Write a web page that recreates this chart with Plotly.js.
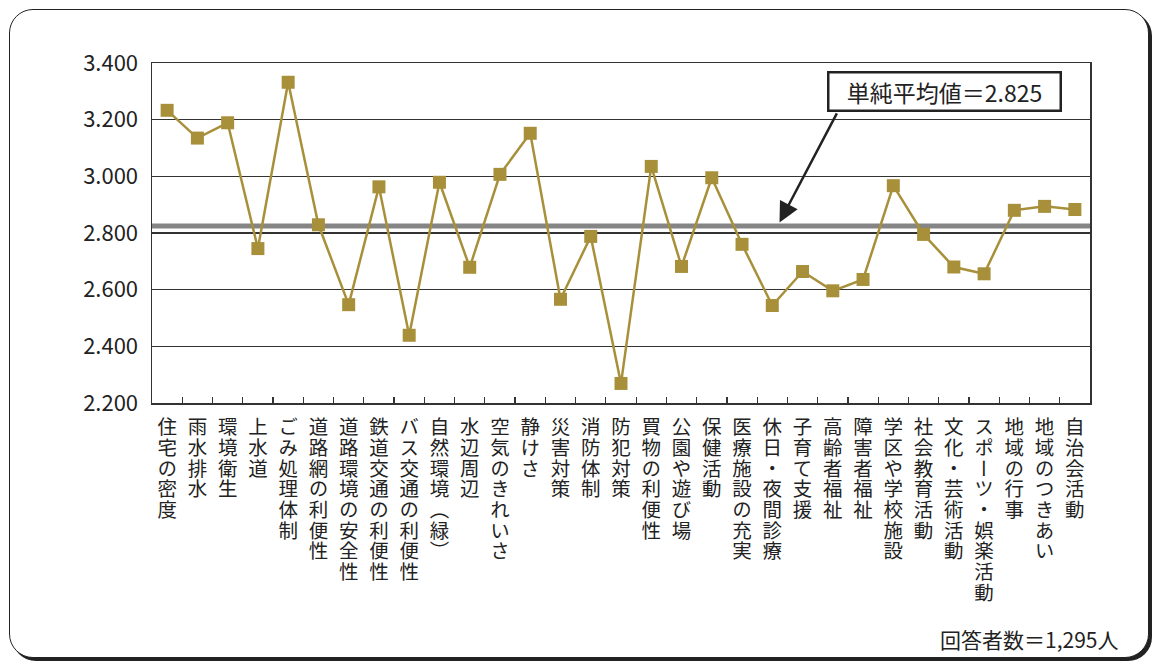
<!DOCTYPE html>
<html>
<head>
<meta charset="utf-8">
<script src="https://cdn.plot.ly/plotly-3.0.1.min.js"></script>
<style>
  html, body { margin: 0; padding: 0; background: #ffffff; }
  body { width: 1154px; height: 664px; position: relative; overflow: hidden; }
  #frame {
    position: absolute; left: 9px; top: 9px; width: 1138px; height: 647px;
    border: 1.5px solid #222; border-radius: 24px;
    box-shadow: 3px 3px 0 #222; background: #fff;
  }
  #chart { position: absolute; left: 0; top: 0; width: 1154px; height: 664px; }
</style>
</head>
<body>
<div id="frame"></div>
<div id="chart"></div>
<script>
// Satisfaction score per item
const categories = [
  '住宅の密度', '雨水排水', '環境衛生', '上水道', 'ごみ処理体制',
  '道路網の利便性', '道路環境の安全性', '鉄道交通の利便性', 'バス交通の利便性', '自然環境（緑）',
  '水辺周辺', '空気のきれいさ', '静けさ', '災害対策', '消防体制',
  '防犯対策', '買物の利便性', '公園や遊び場', '保健活動', '医療施設の充実',
  '休日・夜間診療', '子育て支援', '高齢者福祉', '障害者福祉', '学区や学校施設',
  '社会教育活動', '文化・芸術活動', 'スポーツ・娯楽活動', '地域の行事', '地域のつきあい',
  '自治会活動'
];
const scores = [
  3.233, 3.135, 3.189, 2.745, 3.332,
  2.829, 2.547, 2.963, 2.439, 2.979,
  2.679, 3.007, 3.152, 2.566, 2.788,
  2.269, 3.035, 2.682, 2.995, 2.760,
  2.544, 2.664, 2.596, 2.636, 2.967,
  2.795, 2.680, 2.656, 2.880, 2.894,
  2.883
];
const simpleMean = 2.825;
const respondents = 1295;
const yTicks = [2.2, 2.4, 2.6, 2.8, 3.0, 3.2, 3.4];

const FONT = '"Noto Sans CJK JP", "Noto Sans", sans-serif';
const gold = '#a8903a';

// Stacked fallback for the category labels (replaced by true vertical text after drawing)
const verticalForms = { '（': '︵', '）': '︶', 'ー': '︱' };
const toStacked = s => Array.from(s).map(c => verticalForms[c] || c).join('<br>');
const stackedLabels = categories.map(toStacked);

const trace = {
  type: 'scatter', mode: 'lines+markers',
  x: categories, y: scores,
  line: { color: gold, width: 2.5 },
  marker: { symbol: 'square', size: 13, color: gold },
  cliponaxis: false,
  hoverinfo: 'x+y'
};

const layout = {
  width: 1154, height: 664,
  margin: { l: 152, r: 64, t: 63, b: 261 },
  paper_bgcolor: 'rgba(0,0,0,0)', plot_bgcolor: 'rgba(0,0,0,0)',
  font: { family: FONT, color: '#222' },
  showlegend: false,
  xaxis: {
    type: 'category',
    tickmode: 'array', tickvals: categories, ticktext: stackedLabels,
    tickson: 'boundaries', ticks: 'inside', ticklen: 6, tickcolor: '#333', tickwidth: 1.2,
    tickangle: 0,
    tickfont: { size: 16, family: FONT, color: '#222' },
    showgrid: false, zeroline: false,
    showline: true, linecolor: '#333', linewidth: 1.5, mirror: true,
    range: [-0.5, categories.length - 0.5], fixedrange: true
  },
  yaxis: {
    range: [2.2, 3.4], tickmode: 'array', tickvals: yTicks,
    ticktext: yTicks.map(v => v.toFixed(3)),
    tickfont: { size: 22, family: FONT, color: '#222' },
    ticks: '', ticklabelstandoff: 8,
    showgrid: true, gridcolor: '#333', gridwidth: 1.2,
    zeroline: false, showline: true, linecolor: '#333', linewidth: 1.5, mirror: true,
    fixedrange: true
  },
  shapes: [{
    type: 'line', xref: 'paper', x0: 0, x1: 1, yref: 'y', y0: simpleMean, y1: simpleMean,
    line: { color: '#858585', width: 5 }, layer: 'below'
  }],
  annotations: [
    {
      // arrow pointing at the mean line
      xref: 'paper', x: 0.667, yref: 'y', y: simpleMean,
      text: '', showarrow: true, ax: 60, ay: -114, axref: 'pixel', ayref: 'pixel',
      arrowhead: 2, arrowsize: 1.6, arrowwidth: 2.5, arrowcolor: '#222', standoff: 4
    },
    {
      xref: 'paper', x: 0.845, yref: 'paper', y: 0.9156,
      xanchor: 'center', yanchor: 'middle',
      text: '単純平均値＝' + simpleMean.toFixed(3), showarrow: false,
      font: { size: 23, family: FONT, color: '#222' },
      bgcolor: '#ffffff', bordercolor: '#222', borderwidth: 2.5, borderpad: 3,
      width: 224, height: 30
    },
    {
      xref: 'paper', x: 1.032, yref: 'paper', y: -0.693,
      xanchor: 'right', yanchor: 'middle',
      text: '回答者数＝' + respondents.toLocaleString('en-US') + '人', showarrow: false,
      font: { size: 21, family: FONT, color: '#222' }
    }
  ]
};

Plotly.newPlot('chart', [trace], layout, { displayModeBar: false, staticPlot: true }).then(gd => {
  // Turn each category label into vertical (top-to-bottom) text
  const size = gd._fullLayout._size;
  const gdTop = gd.getBoundingClientRect().top;
  const labelTop = gdTop + size.t + size.h + 14;
  gd.querySelectorAll('g.xtick text').forEach(t => {
    const raw = t.getAttribute('data-unformatted') || '';
    const idx = stackedLabels.indexOf(raw);
    if (idx < 0) return;
    const r0 = t.getBoundingClientRect();
    const c0 = r0.left + r0.width / 2;
    const x0 = parseFloat(t.getAttribute('x')) || 0;
    const y0 = parseFloat(t.getAttribute('y')) || 0;
    while (t.firstChild) t.removeChild(t.firstChild);
    t.textContent = categories[idx];
    t.setAttribute('text-anchor', 'start');
    t.style.writingMode = 'vertical-rl';
    t.style.fontSize = '19.5px';
    t.style.letterSpacing = '1.2px';
    t.setAttribute('x', x0);
    t.setAttribute('y', y0);
    const r1 = t.getBoundingClientRect();
    t.setAttribute('x', x0 + (c0 - (r1.left + r1.width / 2)));
    t.setAttribute('y', y0 + (labelTop - r1.top));
  });
});
</script>
</body>
</html>
